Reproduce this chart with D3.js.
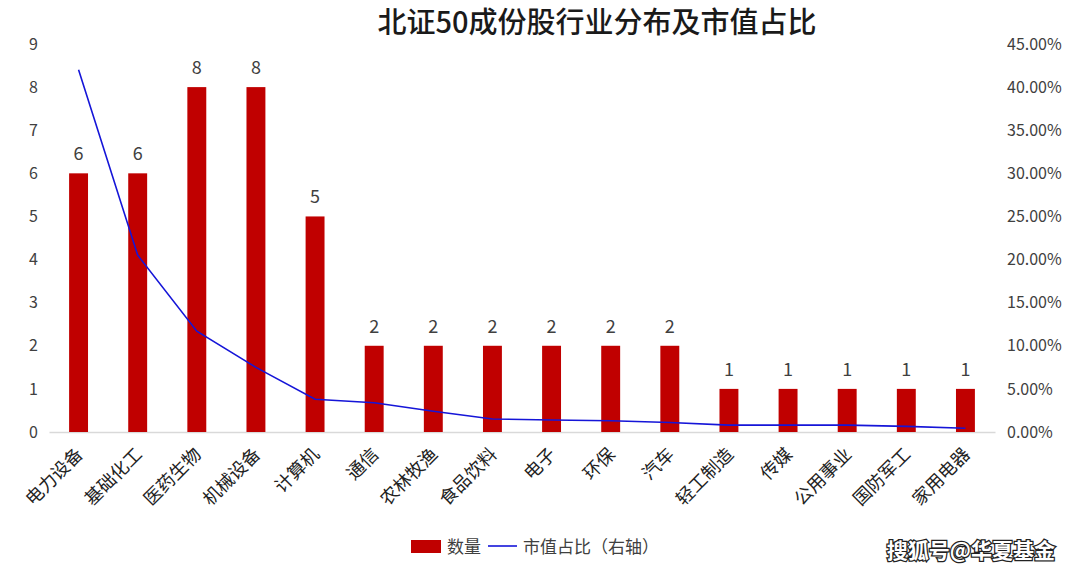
<!DOCTYPE html>
<html>
<head>
<meta charset="utf-8">
<script src="https://cdn.jsdelivr.net/npm/d3@7"></script>
<style>
  body { margin: 0; background: #fff; }
  text { font-family: "Noto Sans CJK SC", "Noto Sans", sans-serif; }
</style>
</head>
<body>
<div id="chart"></div>
<script>
// 数据
const categories = ['电力设备', '基础化工', '医药生物', '机械设备', '计算机', '通信', '农林牧渔', '食品饮料',
    '电子', '环保', '汽车', '轻工制造', '传媒', '公用事业', '国防军工', '家用电器'];
const counts = [6, 6, 8, 8, 5, 2, 2, 2, 2, 2, 2, 1, 1, 1, 1, 1];
const shares = [0.420, 0.205, 0.117, 0.075, 0.038, 0.034, 0.024, 0.015, 0.014, 0.013, 0.011, 0.008, 0.008, 0.008, 0.0065, 0.0043];
const leftTicks = [0, 1, 2, 3, 4, 5, 6, 7, 8, 9];
const rightTicks = [0, 0.05, 0.10, 0.15, 0.20, 0.25, 0.30, 0.35, 0.40, 0.45];

const width = 1080, height = 574;
const margin = { top: 44, right: 85, bottom: 142, left: 49 };

const svg = d3.select('#chart').append('svg')
    .attr('width', width)
    .attr('height', height);

const x = d3.scaleBand()
    .domain(categories)
    .range([margin.left, width - margin.right])
    .paddingInner(0.68)
    .paddingOuter(0.34);

const yL = d3.scaleLinear().domain([0, 9]).range([height - margin.bottom, margin.top]);
const yR = d3.scaleLinear().domain([0, 0.45]).range([height - margin.bottom, margin.top]);

// 标题
svg.append('text')
    .attr('x', 597)
    .attr('y', 33)
    .attr('text-anchor', 'middle')
    .attr('font-size', '29px')
    .attr('font-weight', 500)
    .attr('fill', '#1a1a1a')
    .text('北证50成份股行业分布及市值占比');

// 左轴
const axisL = svg.append('g')
    .attr('transform', `translate(${margin.left},0)`)
    .call(d3.axisLeft(yL).tickValues(leftTicks).tickSize(0).tickPadding(11));
axisL.select('.domain').remove();
axisL.selectAll('text').attr('font-size', '16px').attr('fill', '#404040');

// 右轴
const axisR = svg.append('g')
    .attr('transform', `translate(${width - margin.right},0)`)
    .call(d3.axisRight(yR).tickValues(rightTicks).tickSize(0).tickPadding(12).tickFormat(d3.format('.2%')));
axisR.select('.domain').remove();
axisR.selectAll('text').attr('font-size', '16px').attr('fill', '#404040');

// 底部轴线
const axisB = svg.append('g')
    .attr('transform', `translate(0,${height - margin.bottom})`)
    .call(d3.axisBottom(x).tickSize(0).tickFormat(''));
axisB.select('.domain').attr('stroke', '#d9d9d9').attr('stroke-width', 1.5);

// 柱子
svg.append('g')
    .selectAll('rect')
    .data(counts)
    .enter().append('rect')
    .attr('x', (d, i) => x(categories[i]))
    .attr('y', d => yL(d))
    .attr('width', x.bandwidth())
    .attr('height', d => yL(0) - yL(d))
    .attr('fill', '#c00000');

// 柱子数值
svg.append('g')
    .selectAll('text')
    .data(counts)
    .enter().append('text')
    .attr('x', (d, i) => x(categories[i]) + x.bandwidth() / 2)
    .attr('y', d => yL(d) - 13)
    .attr('text-anchor', 'middle')
    .attr('font-size', '18px')
    .attr('fill', '#404040')
    .text(d => d);

// 市值占比折线
const line = d3.line()
    .x((d, i) => x(categories[i]) + x.bandwidth() / 2)
    .y(d => yR(d));

svg.append('path')
    .datum(shares)
    .attr('d', line)
    .attr('fill', 'none')
    .attr('stroke', '#1515d8')
    .attr('stroke-width', 1.6);

// 类别标签 (旋转)
svg.append('g')
    .selectAll('text')
    .data(categories)
    .enter().append('text')
    .attr('transform', d => `translate(${x(d) + x.bandwidth() / 2 + 1},${height - margin.bottom + 19}) rotate(-45)`)
    .attr('text-anchor', 'end')
    .attr('dy', '0.35em')
    .attr('font-size', '18px')
    .attr('fill', '#222')
    .text(d => d);

// 图例
const legend = svg.append('g');
legend.append('rect')
    .attr('x', 411).attr('y', 540)
    .attr('width', 30).attr('height', 13)
    .attr('fill', '#c00000');
legend.append('text')
    .attr('x', 447).attr('y', 553)
    .attr('font-size', '17px').attr('fill', '#404040')
    .text('数量');
legend.append('line')
    .attr('x1', 488).attr('x2', 517)
    .attr('y1', 546).attr('y2', 546)
    .attr('stroke', '#1515d8').attr('stroke-width', 1.6);
legend.append('text')
    .attr('x', 523).attr('y', 553)
    .attr('font-size', '17px').attr('fill', '#404040')
    .text('市值占比（右轴）');

// 水印
svg.append('text')
    .attr('x', 1055).attr('y', 558)
    .attr('text-anchor', 'end')
    .attr('font-size', '21px')
    .attr('font-weight', 'bold')
    .attr('fill', '#fff')
    .attr('stroke', '#222')
    .attr('stroke-width', 2.5)
    .attr('paint-order', 'stroke')
    .text('搜狐号@华夏基金');
</script>
</body>
</html>
